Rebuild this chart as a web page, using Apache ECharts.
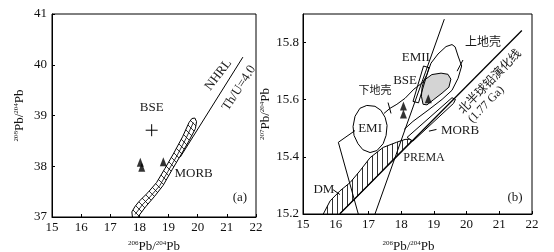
<!DOCTYPE html>
<html><head><meta charset="utf-8">
<script src="https://cdn.jsdelivr.net/npm/echarts@6/dist/echarts.min.js"></script>
<style>html,body{margin:0;padding:0;background:#fff}#c{width:554px;height:252px}</style>
</head><body><div id="c"></div>
<script>
// ---------- axis ticks ----------
const xTicks = [15, 16, 17, 18, 19, 20, 21, 22];
const yTicksA = [37, 38, 39, 40, 41];
const yTicksB = [15.2, 15.4, 15.6, 15.8];
const yMaxB = 15.9;

// ---------- panel (a): 208Pb/204Pb vs 206Pb/204Pb ----------
const morbA = [[17.76,37.0],[17.74,37.1],[17.84,37.2],[17.99,37.31],[18.29,37.48],[18.59,37.68],[18.88,37.96],[19.18,38.26],[19.48,38.58],[19.7,38.86],[19.8,38.94],[19.9,38.95],[19.96,38.88],[19.92,38.74],[19.7,38.5],[19.42,38.22],[19.12,37.93],[18.81,37.62],[18.51,37.4],[18.21,37.2],[18.0,37.04],[17.95,37.0]];
const morbAMid = [[17.85,37.05],[18.1,37.24],[18.4,37.42],[18.7,37.62],[18.98,37.9],[19.3,38.22],[19.6,38.55],[19.85,38.86]];
const nhrlA = [[19.4,38.18],[21.55,40.15]];
const bseA = [[18.42,38.71]];
const samplesA = [[18.03,38.08],[18.08,37.98],[18.82,38.09]];
const labelsA = [
  [18.42,39.15,'BSE',0],
  [19.86,37.85,'MORB',0],
  [21.45,37.38,'(a)',0],
  [20.71,39.80,'NHRL',52],
  [21.42,39.54,'Th/U=4.0',57]
];

// ---------- panel (b): 207Pb/204Pb vs 206Pb/204Pb ----------
const geochronB = [[17.2,15.2],[19.32,15.882]];
const nhrlB = [[16.12,15.2],[21.69,15.842]];
const dmPremaB = [[15.62,15.2],[15.83,15.246],[16.13,15.281],[16.44,15.31],[16.74,15.351],[17.05,15.397],[17.45,15.433],[17.86,15.451],[18.12,15.461],[18.33,15.462],[18.27,15.45],[17.66,15.38],[17.05,15.307],[16.44,15.236],[16.12,15.2]];
const morbB = [[18.18,15.468],[19.555,15.607],[19.66,15.601],[19.60,15.587],[18.36,15.455]];
const emiB = [[16.95,15.580],[17.20,15.577],[17.38,15.563],[17.51,15.538],[17.57,15.510],[17.54,15.475],[17.45,15.446],[17.26,15.422],[17.05,15.415],[16.83,15.425],[16.68,15.446],[16.56,15.475],[16.53,15.506],[16.59,15.542],[16.74,15.570]];
const crustLeftB = [[16.69,15.2],[16.08,15.451],[16.59,15.492]];
const crustOutlineB = [[17.476,15.552],[17.66,15.570],[17.87,15.584],[18.12,15.605],[18.39,15.637],[18.67,15.661],[18.79,15.689],[18.913,15.728],[19.127,15.760],[19.372,15.786],[19.555,15.793],[19.65,15.785],[19.74,15.753],[19.85,15.718],[19.74,15.675],[19.555,15.633],[19.25,15.601],[18.82,15.563],[18.36,15.524],[18.09,15.496]];
const greyFieldB = [[18.70,15.668],[18.94,15.688],[19.22,15.693],[19.43,15.689],[19.52,15.672],[19.46,15.644],[19.25,15.623],[19.00,15.601],[18.79,15.582],[18.67,15.584],[18.62,15.612],[18.64,15.644]];
const emiiBoxB = [[18.684,15.718],[18.852,15.712],[18.531,15.589],[18.363,15.594]];
const samplesB = [[18.07,15.578],[18.07,15.55],[18.83,15.603]];
const leadersB = [
  [[18.85,15.49],[19.08,15.496]],
  [[17.60,15.59],[17.69,15.552]],
  [[19.71,15.70],[19.89,15.739]],
  [[15.92,15.285],[16.13,15.268]]
];
const labelsB = [
  [18.45,15.749,'EMII',0,13],
  [18.12,15.668,'BSE',0,13],
  [17.20,15.630,'下地壳',0,11],
  [20.50,15.799,'上地壳',0,12],
  [17.05,15.498,'EMI',0,13],
  [19.80,15.492,'MORB',0,13],
  [18.70,15.397,'PREMA',0,12],
  [15.64,15.287,'DM',0,13],
  [21.48,15.257,'(b)',0,13],
  [20.72,15.662,'北半球铅演化线',46,12],
  [20.60,15.583,'(1.77 Ga)',46,12]
];

// ---------- helpers ----------
const SERIF = "'Liberation Serif','Noto Sans CJK SC',serif";
function pattern(w, h, draw) {
  const c = document.createElement('canvas'); c.width = w; c.height = h;
  const g = c.getContext('2d'); g.fillStyle = '#fff'; g.fillRect(0,0,w,h);
  g.strokeStyle = '#000'; g.lineWidth = 0.8; g.beginPath(); draw(g,w,h); g.stroke();
  return {image: c, repeat: 'repeat'};
}
const hatchDiag = pattern(7,7,(g,w,h)=>{g.moveTo(-1,-1);g.lineTo(w+1,h+1);g.moveTo(-1,h-1);g.lineTo(1,h+1);g.moveTo(w-1,-1);g.lineTo(w+1,1);});
const hatchVert = pattern(5,5,(g,w,h)=>{g.moveTo(w/2,0);g.lineTo(w/2,h);});

function poly(gi, pts, style) {
  return {type:'custom', xAxisIndex:gi, yAxisIndex:gi, clip:true, silent:true, data:[pts[0]],
    renderItem:(p, api)=>({type:'polygon', shape:{points: pts.map(q=>api.coord(q))}, style: Object.assign({stroke:'#000', lineWidth:1}, style)})};
}
function line(gi, pts, w) {
  return {type:'line', xAxisIndex:gi, yAxisIndex:gi, data:pts, symbol:'none', silent:true,
    lineStyle:{color:'#000', width: w||1}};
}
function texts(gi, list, defSize) {
  return {type:'custom', xAxisIndex:gi, yAxisIndex:gi, clip:false, silent:true, data:list.map(l=>[l[0],l[1]]),
    renderItem:(p, api)=>{
      const l = list[p.dataIndex]; const c = api.coord([l[0], l[1]]);
      return {type:'text', x:c[0], y:c[1], rotation:(l[3]||0)*Math.PI/180,
        style:{text:l[2], font:(l[4]||defSize)+'px '+SERIF, fill:'#1a1a1a', align:'center', verticalAlign:'middle'}};
    }};
}
function tri(gi, pts) {
  return {type:'scatter', xAxisIndex:gi, yAxisIndex:gi, data:pts, symbol:'triangle', symbolSize:[7,9], silent:true,
    itemStyle:{color:'#000'}};
}
function cross(gi, pts) {
  return {type:'custom', xAxisIndex:gi, yAxisIndex:gi, silent:true, data:pts,
    renderItem:(p, api)=>{ const c = api.coord([api.value(0), api.value(1)]);
      return {type:'group', children:[
        {type:'line', shape:{x1:c[0]-6,y1:c[1],x2:c[0]+6,y2:c[1]}, style:{stroke:'#000',lineWidth:1}},
        {type:'line', shape:{x1:c[0],y1:c[1]-6,x2:c[0],y2:c[1]+6}, style:{stroke:'#000',lineWidth:1}}]};
    }};
}
const nameStyle = {color:'#111', fontFamily:SERIF, rich:{
  s:{fontSize:7, fontFamily:SERIF, color:'#111', verticalAlign:'top', lineHeight:14},
  n:{fontSize:13, fontFamily:SERIF, color:'#111', lineHeight:14}}};

function xAx(gi, extra) {
  return Object.assign({gridIndex:gi, type:'value', min:xTicks[0], max:xTicks[xTicks.length-1], interval:1,
    axisLine:{onZero:false, lineStyle:{color:'#000', width:1}},
    axisTick:{inside:true, length:3, lineStyle:{color:'#000'}},
    axisLabel:{color:'#111', fontFamily:SERIF, fontSize:13, margin:4},
    splitLine:{show:false},
    name:'{s|206}{n|Pb/}{s|204}{n|Pb}', nameLocation:'middle', nameTextStyle:nameStyle}, extra);
}
function yAx(gi, extra) {
  return Object.assign({gridIndex:gi, type:'value',
    axisLine:{onZero:false, lineStyle:{color:'#000', width:1}},
    axisTick:{inside:true, length:3, lineStyle:{color:'#000'}},
    splitLine:{show:false}, nameLocation:'middle', nameRotate:90, nameTextStyle:nameStyle}, extra);
}

const chart = echarts.init(document.getElementById('c'), null, {renderer:'canvas'});
chart.setOption({
  animation:false,
  backgroundColor:'#fff',
  grid:[
    {left:52, top:14, width:204, height:203, show:true, borderColor:'#000', borderWidth:1, containLabel:false, outerBoundsMode:'none'},
    {left:303, top:14, width:229, height:200, show:true, borderColor:'#000', borderWidth:1, containLabel:false, outerBoundsMode:'none'}
  ],
  xAxis:[ xAx(0,{nameGap:23}), xAx(1,{nameGap:26, nameTextStyle:Object.assign({}, nameStyle, {padding:[0,18,0,0]})}) ],
  yAxis:[
    yAx(0,{min:yTicksA[0], max:yTicksA[yTicksA.length-1], interval:1, name:'{s|208}{n|Pb/}{s|204}{n|Pb}', nameGap:25,
      axisLabel:{color:'#111', fontFamily:SERIF, fontSize:13, margin:5}}),
    yAx(1,{min:yTicksB[0], max:yMaxB, interval:0.2, name:'{s|207}{n|Pb/}{s|204}{n|Pb}', nameGap:27,
      axisLabel:{color:'#111', fontFamily:SERIF, fontSize:13, margin:4, showMaxLabel:false,
        formatter:v=> yTicksB.some(t=>Math.abs(t-v)<1e-6) ? v.toFixed(1) : ''}})
  ],
  series:[
    // panel a
    line(0, nhrlA),
    poly(0, morbA, {fill:hatchDiag}),
    line(0, morbAMid, 0.8),
    cross(0, bseA),
    tri(0, samplesA),
    texts(0, labelsA, 13),
    // panel b
    poly(1, dmPremaB, {fill:hatchVert}),
    line(1, nhrlB, 1.3),
    line(1, geochronB),
    line(1, crustLeftB),
    line(1, crustOutlineB),
    poly(1, emiB, {fill:'rgba(0,0,0,0)'}),
    poly(1, morbB, {fill:'#fff'}),
    poly(1, greyFieldB, {fill:'#d4d4d4'}),
    poly(1, emiiBoxB, {fill:'rgba(0,0,0,0)'}),
    ...leadersB.map(l=>line(1, l)),
    tri(1, samplesB),
    texts(1, labelsB, 13)
  ]
});
</script></body></html>
